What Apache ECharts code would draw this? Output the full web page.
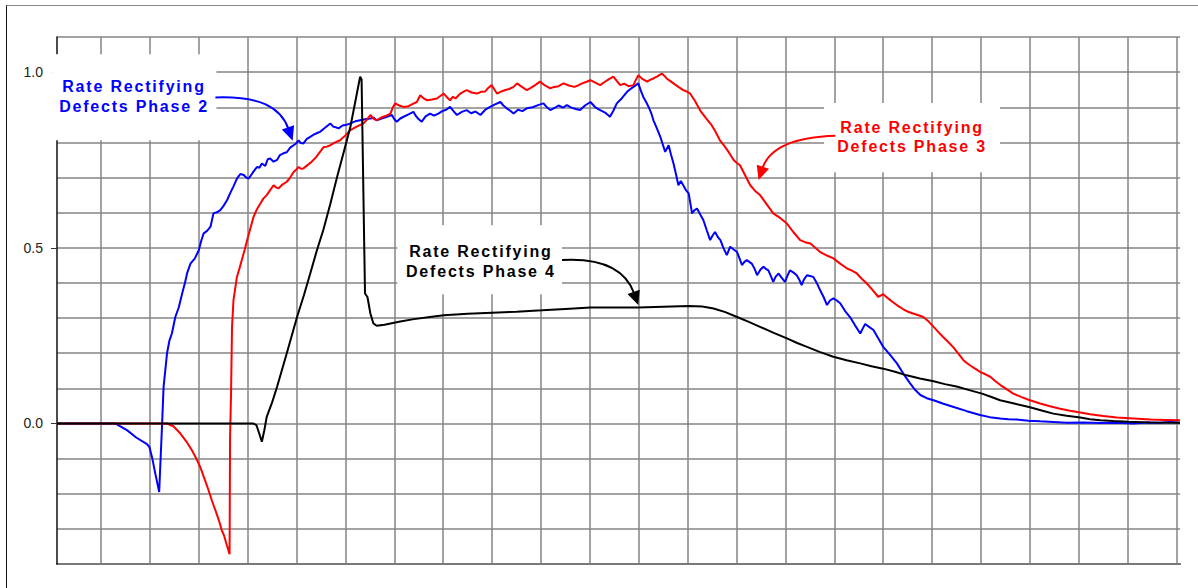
<!DOCTYPE html>
<html><head><meta charset="utf-8">
<script src="https://cdn.jsdelivr.net/npm/echarts@6/dist/echarts.min.js"></script>
<style>
html,body{margin:0;padding:0;background:#fff;overflow:hidden;}
#chart{position:absolute;left:0;top:0;width:1198px;height:588px;}
#frame{position:absolute;left:6px;top:5px;width:1192px;height:583px;border-left:1px solid #111;border-top:1px solid #888;pointer-events:none;box-sizing:border-box;}
#chart svg text[style*="Liberation"]{letter-spacing:1.8px;}
</style></head>
<body><div id="chart"></div><div id="frame"></div>
<script>
// ---------- data ----------
const yTickLabels = [0, 0.5, 1.0];
const seriesNames = ['Rate Rectifying Defects Phase 2', 'Rate Rectifying Defects Phase 3', 'Rate Rectifying Defects Phase 4'];
const phase2 = [[1,0],[12.9,0],[15.3,-0.019],[17.2,-0.04],[19.4,-0.059],[19.9,-0.067],[20.5,-0.1],[21.1,-0.142],[21.9,-0.195],[22.5,0],[22.8,0.104],[23.5,0.199],[24,0.236],[24.5,0.256],[25.2,0.303],[25.9,0.33],[26.6,0.37],[27.2,0.402],[27.6,0.427],[28.3,0.455],[29.2,0.47],[30.0,0.493],[30.5,0.52],[31.0,0.541],[31.7,0.548],[32.4,0.56],[33.0,0.598],[33.7,0.601],[34.4,0.607],[35.1,0.62],[35.8,0.636],[36.4,0.655],[37.1,0.675],[37.8,0.697],[38.5,0.71],[39.2,0.707],[39.7,0.7],[40.2,0.697],[41.0,0.713],[41.9,0.730],[42.4,0.728],[42.9,0.740],[43.6,0.733],[44.1,0.752],[44.6,0.754],[45.3,0.745],[46.0,0.75],[46.6,0.764],[47.3,0.769],[48.0,0.772],[48.7,0.785],[49.4,0.792],[49.9,0.797],[50.4,0.806],[50.9,0.798],[51.4,0.797],[52.1,0.81],[52.8,0.816],[53.5,0.822],[54.1,0.826],[54.8,0.830],[55.5,0.838],[56.2,0.846],[56.9,0.854],[57.5,0.845],[58.0,0.843],[58.6,0.840],[59.4,0.848],[60.2,0.85],[61.0,0.854],[62.0,0.86],[63.0,0.863],[64.0,0.866],[65.1,0.868],[65.8,0.87],[66.4,0.863],[67.4,0.868],[68.5,0.873],[69.5,0.878],[70.0,0.866],[70.5,0.859],[71.2,0.868],[71.9,0.873],[72.9,0.88],[73.9,0.887],[74.4,0.875],[75.0,0.866],[75.6,0.859],[76.4,0.874],[77.3,0.882],[78.1,0.876],[79.0,0.882],[79.8,0.889],[80.6,0.893],[81.4,0.901],[82.1,0.889],[82.8,0.878],[83.8,0.887],[84.8,0.892],[85.7,0.883],[86.6,0.888],[87.6,0.878],[88.6,0.893],[89.6,0.901],[90.6,0.908],[91.7,0.915],[92.3,0.905],[93.0,0.897],[93.7,0.89],[94.4,0.882],[95.3,0.893],[96.2,0.889],[97.1,0.897],[98.3,0.9],[99.4,0.906],[100.5,0.911],[101.2,0.9],[101.9,0.892],[102.8,0.898],[103.6,0.905],[104.5,0.899],[105.3,0.906],[106.2,0.899],[107.1,0.895],[108.0,0.892],[109.0,0.905],[110.1,0.915],[111.1,0.9],[112.1,0.892],[113.1,0.885],[114.1,0.873],[114.8,0.89],[115.5,0.911],[116.5,0.925],[117.6,0.944],[118.3,0.952],[118.9,0.958],[119.4,0.963],[119.9,0.968],[120.4,0.948],[120.9,0.930],[121.5,0.915],[122.0,0.901],[122.5,0.885],[123.0,0.863],[123.7,0.84],[124.4,0.816],[125.0,0.79],[125.4,0.773],[126.1,0.792],[126.6,0.765],[127.1,0.740],[127.6,0.71],[128.1,0.678],[128.6,0.69],[129.1,0.678],[129.6,0.665],[130.2,0.655],[130.9,0.598],[131.4,0.607],[131.9,0.612],[132.6,0.594],[133.2,0.579],[133.9,0.55],[134.6,0.522],[135.1,0.535],[135.6,0.545],[136.2,0.53],[136.7,0.522],[137.3,0.5],[138.0,0.479],[138.7,0.503],[139.4,0.495],[140.1,0.488],[140.6,0.47],[141.1,0.451],[141.6,0.46],[142.1,0.465],[142.6,0.46],[143.1,0.455],[143.7,0.44],[144.2,0.422],[144.9,0.438],[145.5,0.446],[146.0,0.44],[146.5,0.436],[147.0,0.42],[147.5,0.403],[148.0,0.418],[148.6,0.427],[149.2,0.415],[149.9,0.403],[150.4,0.42],[150.9,0.436],[151.6,0.43],[152.3,0.422],[152.8,0.41],[153.3,0.394],[153.8,0.41],[154.4,0.422],[155.0,0.42],[155.7,0.417],[156.4,0.4],[157.1,0.379],[157.8,0.36],[158.5,0.337],[159.1,0.35],[159.8,0.356],[160.5,0.35],[161.2,0.342],[162.2,0.32],[163.2,0.303],[164.2,0.28],[165.3,0.256],[165.8,0.27],[166.3,0.283],[167.1,0.275],[168.0,0.266],[169.0,0.242],[170.0,0.218],[171.4,0.195],[172.8,0.171],[174.1,0.142],[175.5,0.114],[176.5,0.096],[177.6,0.081],[178.9,0.072],[180.3,0.066],[182.3,0.056],[184.4,0.047],[187.1,0.035],[189.8,0.024],[191.8,0.018],[193.9,0.014],[195.6,0.012],[197.3,0.011],[199.7,0.008],[202.1,0.006],[204.8,0.004],[207.5,0.002],[211,0.003],[214.4,0.001],[217.8,0.002],[221.1,0],[224,0.003],[226.6,0.002],[228.7,0.004],[230.7,0.002]];
const phase3 = [[1,0],[23.5,0],[24.8,-0.008],[26.2,-0.028],[27.4,-0.05],[28.6,-0.076],[29.5,-0.1],[30.3,-0.124],[31.1,-0.155],[32.0,-0.19],[32.7,-0.22],[33.4,-0.247],[34.1,-0.275],[34.7,-0.304],[35.2,-0.32],[35.6,-0.34],[36.3,-0.372],[36.4,-0.038],[36.6,0.085],[36.8,0.275],[37.1,0.351],[37.8,0.417],[38.3,0.44],[38.8,0.465],[39.4,0.495],[39.9,0.522],[40.6,0.558],[41.2,0.588],[41.9,0.61],[42.6,0.626],[43.2,0.64],[43.9,0.650],[44.6,0.664],[45.3,0.678],[45.8,0.672],[46.3,0.669],[47.1,0.68],[48.0,0.688],[48.7,0.7],[49.4,0.716],[49.9,0.722],[50.4,0.730],[50.9,0.725],[51.4,0.726],[52.3,0.736],[53.1,0.745],[54.0,0.758],[54.8,0.773],[55.5,0.786],[56.2,0.788],[56.9,0.792],[57.9,0.8],[58.9,0.806],[60.0,0.82],[61.0,0.835],[62.3,0.845],[63.7,0.854],[64.4,0.865],[65.1,0.878],[65.7,0.868],[66.4,0.863],[67.0,0.868],[67.7,0.873],[68.4,0.876],[69.2,0.882],[69.7,0.9],[70.2,0.911],[71.0,0.905],[71.9,0.901],[72.9,0.903],[73.7,0.909],[74.6,0.915],[75.3,0.934],[76.0,0.925],[76.7,0.920],[77.7,0.922],[78.7,0.925],[79.4,0.932],[80.1,0.939],[80.8,0.928],[81.4,0.920],[82.0,0.93],[82.5,0.925],[83.5,0.939],[84.1,0.944],[84.8,0.949],[85.8,0.942],[86.9,0.939],[87.7,0.944],[88.6,0.945],[89.2,0.955],[89.9,0.963],[90.5,0.95],[91.0,0.939],[91.9,0.945],[92.7,0.949],[93.5,0.952],[94.4,0.958],[95.1,0.968],[96.1,0.958],[97.1,0.949],[97.9,0.955],[98.8,0.963],[99.8,0.973],[100.8,0.962],[101.9,0.954],[102.7,0.958],[103.6,0.96],[104.6,0.968],[105.7,0.962],[106.8,0.958],[107.6,0.962],[108.4,0.968],[109.2,0.972],[110.1,0.977],[111.1,0.97],[112.1,0.963],[113.0,0.972],[113.9,0.98],[114.8,0.987],[115.5,0.975],[116.2,0.963],[117.0,0.967],[117.9,0.96],[118.9,0.963],[119.4,0.978],[119.9,0.991],[120.8,0.98],[121.7,0.973],[122.3,0.978],[123.0,0.982],[123.8,0.988],[124.7,0.996],[125.2,0.99],[125.7,0.982],[126.4,0.975],[127.1,0.968],[128.1,0.958],[129.1,0.949],[129.8,0.945],[130.5,0.939],[131.5,0.918],[132.6,0.890],[133.7,0.87],[134.9,0.849],[135.7,0.83],[136.6,0.806],[137.5,0.79],[138.5,0.77],[139.4,0.750],[140.0,0.742],[140.7,0.735],[141.8,0.705],[142.8,0.678],[143.8,0.662],[144.8,0.650],[146.1,0.625],[147.5,0.598],[148.9,0.585],[150.3,0.569],[151.6,0.545],[153.0,0.522],[154.0,0.516],[155.1,0.512],[156.1,0.5],[157.1,0.488],[158.5,0.478],[159.8,0.470],[161.2,0.455],[162.6,0.441],[163.6,0.435],[164.6,0.427],[165.6,0.412],[166.6,0.399],[167.8,0.38],[169.0,0.360],[170.0,0.368],[171.0,0.356],[172.0,0.345],[173.1,0.334],[174.1,0.325],[175.1,0.318],[176.1,0.313],[177.2,0.308],[178.2,0.303],[179.3,0.29],[180.3,0.275],[181.3,0.26],[182.2,0.247],[183.3,0.232],[184.4,0.216],[185.4,0.198],[186.4,0.180],[187.1,0.172],[187.8,0.165],[188.8,0.156],[189.8,0.147],[190.9,0.14],[191.9,0.133],[192.9,0.121],[193.9,0.110],[195.3,0.097],[196.6,0.085],[198.3,0.075],[200.0,0.066],[202.1,0.057],[204.1,0.049],[206.2,0.042],[208.2,0.036],[210.3,0.031],[212.3,0.026],[215,0.021],[217.8,0.017],[221.2,0.014],[224.6,0.011],[227.6,0.01],[230.7,0.009]];
const phase4 = [[1,0],[41.1,0],[41.8,-0.005],[42.4,-0.03],[42.9,-0.052],[43.4,-0.02],[43.9,0.019],[45,0.06],[46.0,0.104],[48.0,0.2],[50.1,0.303],[51.5,0.365],[52.8,0.427],[54.1,0.49],[55.5,0.552],[56.9,0.625],[58.3,0.702],[59.6,0.77],[61.0,0.844],[62.0,0.915],[63.0,0.987],[63.3,0.98],[64.0,0.37],[64.5,0.36],[65.1,0.313],[65.7,0.285],[66.4,0.278],[68,0.281],[71.2,0.29],[74,0.297],[77.3,0.303],[80.1,0.308],[85,0.312],[90.0,0.315],[95,0.318],[100.2,0.322],[105,0.326],[110.1,0.330],[115,0.330],[119.9,0.330],[125,0.332],[130.2,0.334],[133,0.333],[135.3,0.327],[137.7,0.317],[140.1,0.303],[142.5,0.289],[144.8,0.275],[147.6,0.258],[150.3,0.242],[152.4,0.229],[154.4,0.218],[157.1,0.203],[159.8,0.190],[162.5,0.18],[165.3,0.171],[167.6,0.163],[170.0,0.156],[172.4,0.147],[174.8,0.137],[177.5,0.128],[180.3,0.12],[182.6,0.112],[185.0,0.105],[187.6,0.095],[190.2,0.085],[192,0.076],[193.9,0.066],[197,0.056],[200.0,0.046],[202.4,0.037],[204.8,0.028],[207.5,0.022],[210.3,0.017],[212.3,0.012],[214.4,0.009],[217,0.007],[220.1,0.005],[224.6,0.003],[230.7,0.002]];
const annotationTexts = ['Rate Rectifying\nDefects Phase 2', 'Rate Rectifying\nDefects Phase 3', 'Rate Rectifying\nDefects Phase 4'];

// ---------- chart ----------
const colors = ['#0000ff', '#ff0000', '#000000'];
const gridColor = '#858585';
const chart = echarts.init(document.getElementById('chart'), null, {renderer: 'svg'});
const option = {
  animation: false,
  backgroundColor: '#fff',
  grid: {left: 57, right: 18, top: 37, bottom: 24, containLabel: false, outerBoundsMode: 'none'},
  xAxis: {
    type: 'value', min: 1, max: 230.7, splitNumber: 23, minInterval: 10, maxInterval: 10,
    axisLine: {show: true, onZero: false, lineStyle: {color: '#5a5a5a', width: 2}},
    axisTick: {show: false}, axisLabel: {show: false},
    splitLine: {show: true, showMinLine: false, showMaxLine: false, lineStyle: {color: gridColor, width: 1.5}}
  },
  yAxis: [{
    type: 'value', min: -0.4, max: 1.1, interval: 0.1,
    axisLine: {show: true, lineStyle: {color: '#111', width: 1.5}},
    axisTick: {show: true, customValues: yTickLabels, length: 6, lineStyle: {color: '#333', width: 1}},
    axisLabel: {customValues: yTickLabels, margin: 14, color: '#222', fontSize: 14, fontFamily: 'Arial',
      formatter: v => Number(v).toFixed(1)},
    splitLine: {show: false}, z: 3
  }, {
    type: 'value', min: -0.4, max: 1.1, interval: 0.1, position: 'left',
    axisLine: {show: false}, axisTick: {show: false}, axisLabel: {show: false},
    splitLine: {show: true, lineStyle: {color: gridColor, width: 1.5}}, z: 1
  }],
  series: [phase2, phase3, phase4].map((d, i) => ({
    name: seriesNames[i], type: 'line', data: d, showSymbol: false, symbol: 'none', yAxisIndex: 0,
    lineStyle: {color: colors[i], width: 2}, itemStyle: {color: colors[i]}, z: 3 + i
  }))
};
chart.setOption(option);

// annotations, anchored in data coordinates
const annotations = [
  {box: [-0.2, 1.051, 33.6, 0.806], text: [16.75, 0.931], arrow: [[33.4, 0.928], [42.2, 0.932], [46.7, 0.903], [49.2, 0.805]]},
  {box: [157.9, 0.912, 193.9, 0.715], text: [175.9, 0.816], arrow: [[160.2, 0.819], [151.0, 0.815], [146.5, 0.778], [144.5, 0.693]]},
  {box: [70.6, 0.564, 104.3, 0.368], text: [87.7, 0.461], arrow: [[104.3, 0.465], [112.1, 0.471], [117.2, 0.443], [119.9, 0.337]]}
];
const px = p => chart.convertToPixel({gridIndex: 0}, p);
const graphics = [];
annotations.forEach((a, i) => {
  const b0 = px([a.box[0], a.box[1]]), b1 = px([a.box[2], a.box[3]]);
  graphics.push({type: 'rect', z: 100, silent: true,
    shape: {x: b0[0], y: b0[1], width: b1[0] - b0[0], height: b1[1] - b0[1]}, style: {fill: '#fff'}});
  const t = px(a.text);
  graphics.push({type: 'text', z: 101, silent: true, x: t[0], y: t[1],
    style: {text: annotationTexts[i], fill: colors[i], fontFamily: 'Liberation Sans', fontWeight: 'bold', fontSize: 16,
      align: 'center', verticalAlign: 'middle', lineHeight: 19.5}});
  const [s, c1, c2, tip] = a.arrow.map(px);
  let dx = tip[0] - c2[0], dy = tip[1] - c2[1];
  const len = Math.hypot(dx, dy); dx /= len; dy /= len;
  const L = 14, W = 6.5;
  const base = [tip[0] - dx * L, tip[1] - dy * L];
  graphics.push({type: 'bezierCurve', z: 101, silent: true,
    shape: {x1: s[0], y1: s[1], cpx1: c1[0], cpy1: c1[1], cpx2: c2[0], cpy2: c2[1], x2: base[0] + dx * 2, y2: base[1] + dy * 2},
    style: {stroke: colors[i], lineWidth: 2, fill: null}});
  graphics.push({type: 'polygon', z: 101, silent: true,
    shape: {points: [tip, [base[0] - dy * W, base[1] + dx * W], [base[0] + dy * W, base[1] - dx * W]]},
    style: {fill: colors[i]}});
});
chart.setOption({graphic: graphics});
</script>
</body></html>
